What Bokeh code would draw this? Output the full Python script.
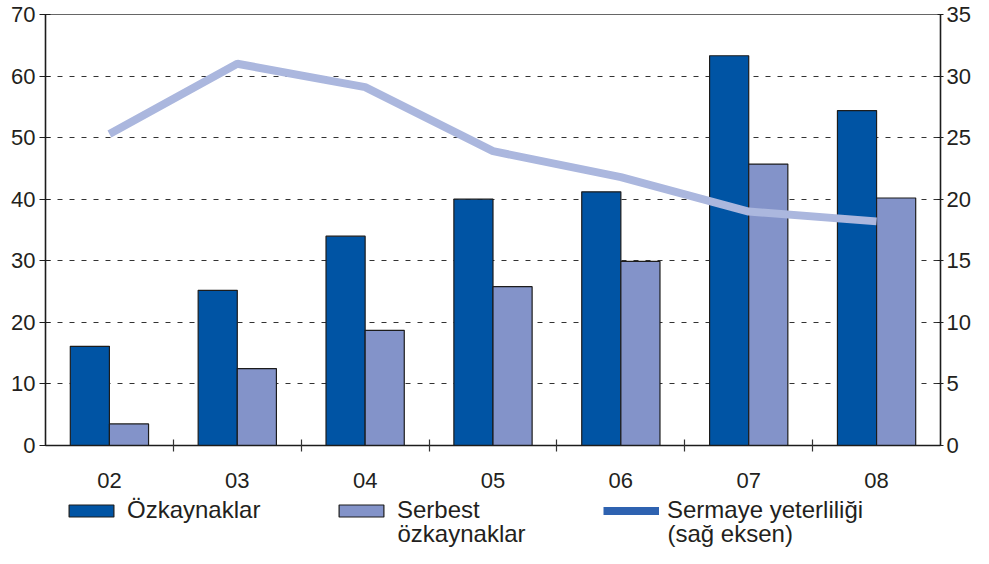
import numpy as np
from bokeh.plotting import figure
from bokeh.layouts import column
from bokeh.models import (Range1d, LinearAxis, FixedTicker, Legend, LegendItem,
                          ColumnDataSource, Label)
from bokeh.transform import dodge
from bokeh.embed import file_html
from bokeh.resources import INLINE

years = ["02", "03", "04", "05", "06", "07", "08"]
ozkaynaklar = [16.1, 25.2, 34.0, 40.0, 41.2, 63.3, 54.4]
serbest = [3.5, 12.5, 18.7, 25.8, 29.9, 45.7, 40.2]
sermaye = [25.3, 31.0, 29.1, 23.9, 21.8, 19.0, 18.2]
left_ticks = [0, 10, 20, 30, 40, 50, 60, 70]
right_ticks = [0, 5, 10, 15, 20, 25, 30, 35]
legend_first = ["Özkaynaklar", "Serbest", "Sermaye yeterliliği"]
legend_second = ["", "özkaynaklar", "(sağ eksen)"]

FONT = "Liberation Sans"
TXT = "#231F20"
DARK = "#0054A4"
LIGHT = "#8393C9"
LINE = "#ABB7DE"
LEGLINE = "#2E62B0"
EDGE = "#1c1c1c"

W, H1, H2 = 973, 496, 52

xc = np.arange(len(years)) + 0.5
src = ColumnDataSource(dict(x=xc, oz=ozkaynaklar, se=serbest, sy=sermaye))

# ---------------- main chart ----------------
p = figure(width=W, height=H1, x_range=Range1d(0, len(years)),
           y_range=Range1d(0, 70), output_backend="svg", toolbar_location=None,
           min_border_left=45, min_border_right=31, min_border_top=14,
           min_border_bottom=51)
p.frame_align = False
p.extra_y_ranges = {"right": Range1d(0, 35)}
p.outline_line_color = "#666666"
p.outline_line_width = 1.2

p.xgrid.grid_line_color = None
p.ygrid.ticker = FixedTicker(ticks=left_ticks[1:-1])
p.ygrid.grid_line_color = "#333333"
p.ygrid.grid_line_dash = "5 7"
p.ygrid.grid_line_width = 1

p.vbar(x=dodge("x", -0.153), top="oz", width=0.306, source=src,
       fill_color=DARK, line_color=EDGE, line_width=1.2)
p.vbar(x=dodge("x", 0.153), top="se", width=0.306, source=src,
       fill_color=LIGHT, line_color=EDGE, line_width=1.2)
p.line("x", "sy", source=src, y_range_name="right", line_color=LINE,
       line_width=8)

xa = p.xaxis[0]
xa.ticker = FixedTicker(ticks=list(xc), minor_ticks=list(range(1, len(years))))
xa.major_label_overrides = {float(v): y for v, y in zip(xc, years)}
xa.major_tick_line_color = None
xa.major_tick_in = 0
xa.major_tick_out = 0
xa.minor_tick_in = 6
xa.minor_tick_out = 6
xa.minor_tick_line_color = "#333333"
xa.minor_tick_line_width = 1.2
xa.major_label_standoff = 21

ya = p.yaxis[0]
ya.ticker = FixedTicker(ticks=left_ticks)
ya.minor_tick_line_color = None
ya.major_tick_in = 5
ya.major_tick_out = 6
ya.major_label_standoff = 4

ra = LinearAxis(y_range_name="right", ticker=FixedTicker(ticks=right_ticks))
ra.minor_tick_line_color = None
ra.major_tick_in = 3
ra.major_tick_out = 3
ra.major_label_standoff = 3
p.add_layout(ra, "right")

for ax in (xa, ya, ra):
    ax.major_label_text_font = FONT
    ax.major_label_text_font_size = "22px"
    ax.major_label_text_color = TXT
    ax.axis_line_color = EDGE
    ax.axis_line_width = 1.5
    ax.major_tick_line_width = 1.2
for ax in (ya, ra):
    ax.major_tick_line_color = EDGE

# ---------------- legend strip ----------------
LEFT = 63
lf = figure(width=W, height=H2, x_range=Range1d(0, W - LEFT),
            y_range=Range1d(0, H2), output_backend="svg",
            toolbar_location=None, min_border_left=LEFT, min_border_right=0,
            min_border_top=0, min_border_bottom=0, x_axis_type=None,
            y_axis_type=None)
lf.frame_align = False
lf.outline_line_color = None
lf.grid.visible = False
# proxies drawn on hidden ranges, used only for the legend swatches
lf.extra_x_ranges = {"hide": Range1d(100, 101)}
lf.extra_y_ranges = {"hide": Range1d(1000, 1001)}
d1 = lf.vbar(x="x", top="oz", bottom="se", width=0.3, source=src,
             x_range_name="hide", y_range_name="hide",
             fill_color=DARK, line_color=EDGE, line_width=1.2)
d2 = lf.vbar(x="x", top="oz", bottom="se", width=0.3, source=src,
             x_range_name="hide", y_range_name="hide",
             fill_color=LIGHT, line_color=EDGE, line_width=1.2)
d3 = lf.line("x", "sy", source=src, x_range_name="hide", y_range_name="hide",
             line_color=LEGLINE, line_width=8)

GW, STAND, LW, SP = 56, 8, 150, 56
FS = "24px"
legend = Legend(
    items=[LegendItem(label=lab, renderers=[r])
           for lab, r in zip(legend_first, [d1, d2, d3])],
    location="top_left", orientation="horizontal", border_line_color=None,
    background_fill_alpha=0, padding=0, margin=0, spacing=SP,
    label_width=LW, glyph_width=GW, glyph_height=15, label_standoff=STAND,
    label_text_font=FONT, label_text_font_size=FS,
    label_text_color=TXT)
lf.add_layout(legend)

item_w = GW + STAND + LW + SP
for i, txt in enumerate(legend_second):
    if txt:
        lf.add_layout(Label(x=i * item_w + GW + STAND, y=15, text=txt,
                            text_font=FONT, text_font_size=FS,
                            text_color=TXT, text_baseline="middle"))

open("out.html", "w").write(file_html(column(p, lf, spacing=0), INLINE))
